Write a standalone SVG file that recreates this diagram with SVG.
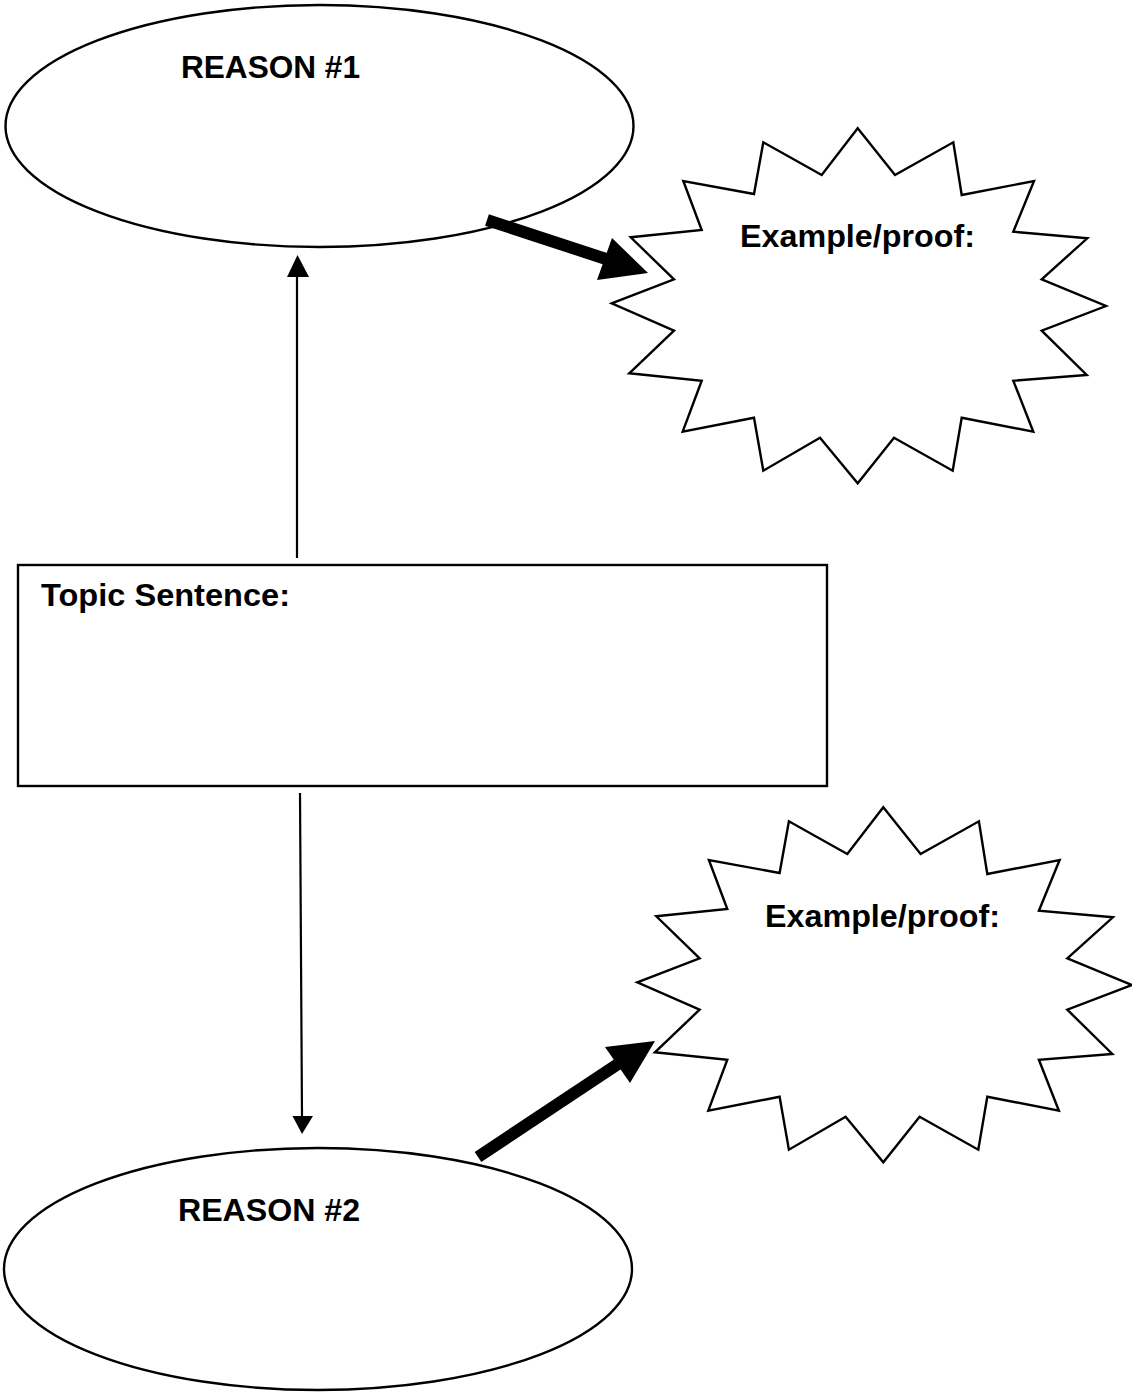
<svg xmlns="http://www.w3.org/2000/svg" width="1132" height="1393" viewBox="0 0 1132 1393">
<defs>
<style>
.shape{fill:#fff;stroke:#000;stroke-width:2.4}
.lbl{font-family:"Liberation Sans",Arial,sans-serif;font-weight:bold;font-size:31.5px;fill:#000}
.thin{stroke:#000;stroke-width:2.2;fill:none}
.thick{stroke:#000;stroke-width:12;fill:none}
.head{fill:#000}
</style>
<path id="star" d="M857.7,128.3 L895,175 L953.3,142.3 L961.7,195 L1034,181 L1013.3,231.7 L1087.3,238.3 L1041.7,279.3 L1106,306 L1041.7,330.7 L1086.7,375 L1013.3,380.7 L1033.3,431.7 L961.7,417.7 L952.7,470.7 L894,437.7 L857.7,483.3 L820,437.7 L763.3,470.7 L754,417.7 L682.7,431.7 L701.7,380.7 L629.3,373.3 L674,330.7 L611.7,303.3 L674,279.3 L630.7,237.3 L701.7,230 L683.3,181 L754,194 L763.3,142.3 L821.7,175 Z"/>
</defs>
<rect width="1132" height="1393" fill="#fff"/>
<g id="reason1">
<ellipse class="shape" cx="319.5" cy="126" rx="314" ry="121"/>
<text class="lbl" x="181" y="78" textLength="179" lengthAdjust="spacingAndGlyphs">REASON #1</text>
</g>
<g id="example1">
<use href="#star" class="shape"/>
<text class="lbl" x="740" y="247" textLength="235" lengthAdjust="spacingAndGlyphs">Example/proof:</text>
</g>
<g id="topic">
<rect class="shape" x="18" y="565" width="809" height="221"/>
<text class="lbl" x="41" y="606" textLength="249" lengthAdjust="spacingAndGlyphs">Topic Sentence:</text>
</g>
<g id="example2">
<use href="#star" class="shape" transform="translate(25.6,679)"/>
<text class="lbl" x="765" y="927" textLength="235" lengthAdjust="spacingAndGlyphs">Example/proof:</text>
</g>
<g id="reason2">
<ellipse class="shape" cx="318" cy="1269" rx="314" ry="121"/>
<text class="lbl" x="178" y="1221" textLength="182" lengthAdjust="spacingAndGlyphs">REASON #2</text>
</g>
<g id="connectors">
<line class="thin" x1="297" y1="558" x2="297" y2="274"/>
<polygon class="head" points="297.5,255 287,277 309,277"/>
<line class="thin" x1="300" y1="793" x2="302" y2="1118"/>
<polygon class="head" points="302,1134 292.5,1116 313,1116"/>
<line class="thick" x1="487" y1="220" x2="606" y2="259"/>
<polygon class="head" points="648,273 612,238 597,280"/>
<line class="thick" x1="478" y1="1157" x2="618" y2="1064"/>
<polygon class="head" points="655,1041 605,1047 630,1083"/>
</g>
</svg>
